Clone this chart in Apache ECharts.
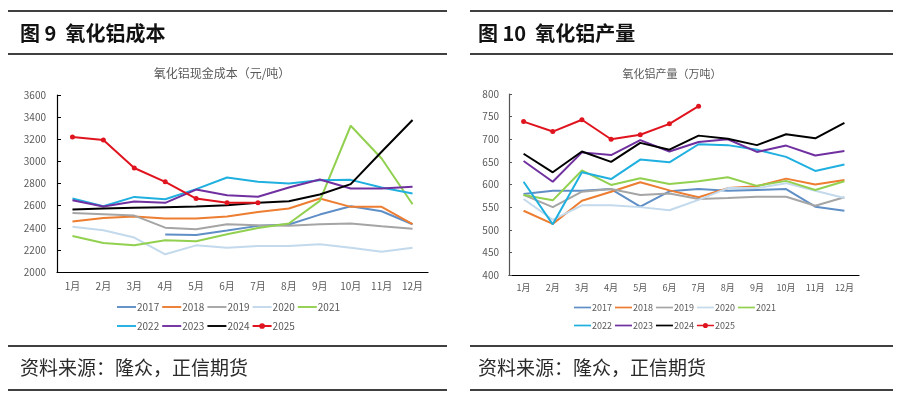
<!DOCTYPE html>
<html>
<head>
<meta charset="utf-8">
<script src="https://cdn.jsdelivr.net/npm/echarts@6/dist/echarts.min.js"></script>
<style>
html,body{margin:0;padding:0;background:#fff;}
#c{width:903px;height:399px;}
</style>
</head>
<body>
<div id="c"></div>
<script>
// 月份
const months=['1月','2月','3月','4月','5月','6月','7月','8月','9月','10月','11月','12月'];
const years=['2017','2018','2019','2020','2021','2022','2023','2024','2025'];
const colors=['#5f8fc6','#ed7d31','#a5a5a5','#c3d9ec','#92d050','#1fb0e0','#7030a0','#000000','#e0141e'];

// 图9 氧化铝现金成本（元/吨）
const cost2017=[null,null,null,2340,2335,2375,2417,2429,2519,2595,2549,2432];
const cost2018=[2456,2489,2501,2483,2483,2501,2543,2574,2664,2589,2589,2432];
const cost2019=[2534,2522,2510,2401,2386,2432,2423,2417,2432,2438,2414,2392];
const cost2020=[2408,2377,2311,2160,2241,2220,2235,2235,2250,2220,2184,2220];
const cost2021=[2326,2263,2241,2287,2278,2341,2398,2438,2643,3322,3026,2613];
const cost2022=[2664,2595,2679,2658,2749,2854,2815,2800,2830,2833,2764,2710];
const cost2023=[2649,2592,2637,2625,2745,2694,2680,2764,2836,2755,2755,2770];
const cost2024=[2565,2574,2580,2586,2592,2604,2625,2640,2700,2794,3087,3374];
const cost2025=[3220,3193,2940,2815,2664,2625,2625];

// 图10 氧化铝产量（万吨）
const out2017=[579,586,586,590,551,585,590,586,588,590,551,542];
const out2018=[542,513,564,584,605,587,572,592,596,613,600,610];
const out2019=[577,550,584,590,577,580,568,570,573,573,553,572];
const out2020=[568,522,554,554,550,543,566,592,592,603,586,570];
const out2021=[577,565,631,599,614,601,607,616,597,608,588,607];
const out2022=[606,512,627,612,655,649,689,687,677,661,630,644];
const out2023=[652,606,671,665,698,673,694,700,672,686,664,674];
const out2024=[668,627,673,650,692,677,708,701,687,711,702,736];
const out2025=[739,717,743,700,710,734,773];

const costData=[cost2017,cost2018,cost2019,cost2020,cost2021,cost2022,cost2023,cost2024,cost2025];
const outData=[out2017,out2018,out2019,out2020,out2021,out2022,out2023,out2024,out2025];

const axisTxt='#595959';
const font='"Noto Sans CJK SC", "Noto Sans", sans-serif';
// 图例图标：普通线 / 带圆点的线
const lineIcon='path://M0,0h20v2h-20z';
const dotIcon='path://M0,2h20v2h-20z M13,3a3,3 0 1,1 -6,0a3,3 0 1,1 6,0z';

function mkSeries(arr,idx){
  return arr.map((d,i)=>{
    const isLast=i===years.length-1;
    return {
      name:years[i],type:'line',xAxisIndex:idx,yAxisIndex:idx,data:d,
      symbol:isLast?'circle':'none',symbolSize:5,showSymbol:isLast,
      lineStyle:{width:2,color:colors[i]},itemStyle:{color:colors[i]},
      z:isLast?10:2+i,animation:false,connectNulls:false
    };
  });
}

function mkLegend(left,top,names,fs,iw){
  return {left:left,top:top,padding:0,itemWidth:iw,itemHeight:8,itemGap:3,
    data:names.map(n=>({name:n,icon:n==='2025'?dotIcon:lineIcon})),
    textStyle:{fontSize:fs,color:axisTxt,padding:[0,0,0,-4]},selectedMode:false};
}

const chart=echarts.init(document.getElementById('c'));
const hr=(x1,x2,y)=>({type:'line',shape:{x1:x1,y1:y,x2:x2,y2:y},style:{stroke:'#000',lineWidth:1.5},silent:true});
const txt=(x,y,t,fs,fw,col)=>({type:'text',x:x,y:y,style:{text:t,fontSize:fs,fontWeight:fw,fill:col,fontFamily:font,textVerticalAlign:'middle'},silent:true});

chart.setOption({
  animation:false,
  color:colors,
  textStyle:{fontFamily:font},
  graphic:[
    hr(8,447,11),hr(8,447,54),hr(8,447,346),hr(8,447,390),
    hr(470,893,11),hr(470,893,54),hr(470,893,346),hr(470,893,390),
    txt(20,33,'图 9  氧化铝成本',20,'bold','#111'),
    txt(478,33,'图 10  氧化铝产量',20,'bold','#111'),
    txt(20,368,'资料来源：隆众，正信期货',19,'normal','#2a2a2a'),
    txt(478,368,'资料来源：隆众，正信期货',19,'normal','#2a2a2a'),
    {type:'text',x:222,y:73,style:{text:'氧化铝现金成本（元/吨）',fontSize:12,fill:axisTxt,fontFamily:font,textAlign:'center',textVerticalAlign:'middle'},silent:true},
    {type:'text',x:672,y:74,style:{text:'氧化铝产量（万吨）',fontSize:11,fill:axisTxt,fontFamily:font,textAlign:'center',textVerticalAlign:'middle'},silent:true}
  ],
  legend:[
    mkLegend(117,302,years.slice(0,5),10,19),
    mkLegend(117,321,years.slice(5),10,19),
    mkLegend(574,303,years.slice(0,5),9,17),
    mkLegend(574,321,years.slice(5),9,17)
  ],
  grid:[
    {left:57,top:95,width:371,height:177},
    {left:509,top:94,width:350,height:181}
  ],
  xAxis:[0,1].map(i=>({
    type:'category',gridIndex:i,data:months,boundaryGap:true,
    axisLine:{lineStyle:{color:'#000',width:1.2}},axisTick:{show:false},
    axisLabel:{color:axisTxt,fontSize:i===0?10:9,margin:i===0?9:8,interval:0}
  })),
  yAxis:[
    {type:'value',gridIndex:0,min:2000,max:3600,interval:200,
     axisLine:{show:true,lineStyle:{color:'#000',width:1.2}},
     axisTick:{show:true,inside:true,length:4,lineStyle:{color:'#000'}},
     axisLabel:{color:axisTxt,fontSize:10,margin:11,formatter:v=>String(v)},splitLine:{show:false}},
    {type:'value',gridIndex:1,min:400,max:800,interval:50,
     axisLine:{show:true,lineStyle:{color:'#555',width:1.2}},
     axisTick:{show:true,inside:true,length:3,lineStyle:{color:'#555'}},
     axisLabel:{color:axisTxt,fontSize:10,margin:10,formatter:v=>String(v)},splitLine:{show:false}}
  ],
  series:mkSeries(costData,0).concat(mkSeries(outData,1))
});
</script>
</body>
</html>
